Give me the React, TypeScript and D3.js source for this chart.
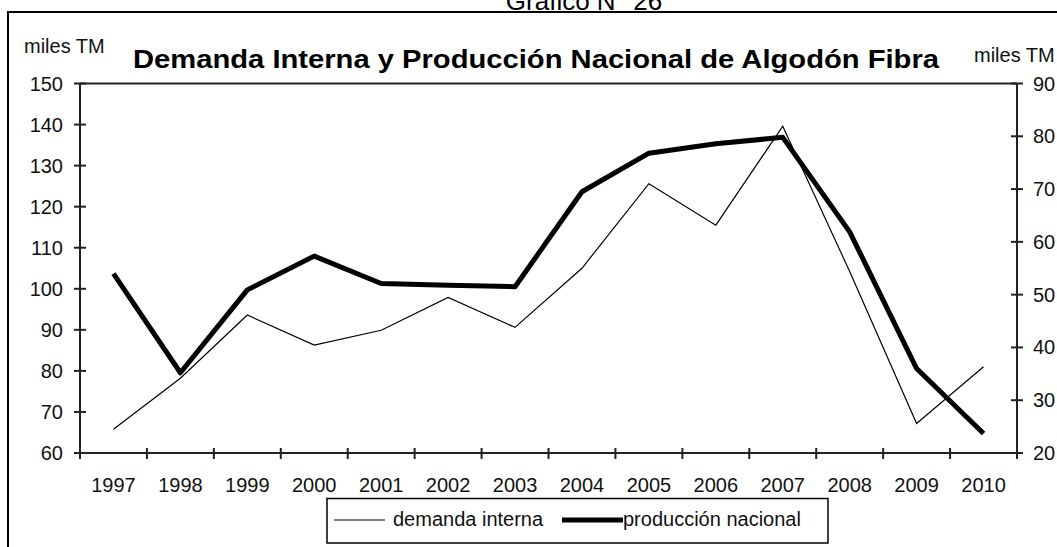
import React from "react";
import * as d3 from "d3";

const years = ["1997","1998","1999","2000","2001","2002","2003","2004","2005","2006","2007","2008","2009","2010"];
const demandaInterna = [65.8, 78.2, 93.6, 86.3, 89.9, 97.9, 90.6, 105.0, 125.6, 115.5, 139.6, 104.2, 67.2, 81.0];
const produccionNacional = [54.0, 35.2, 50.9, 57.3, 52.1, 51.8, 51.5, 69.5, 76.8, 78.6, 79.8, 61.9, 36.0, 23.7];
const leftTicks = [60, 70, 80, 90, 100, 110, 120, 130, 140, 150];
const rightTicks = [20, 30, 40, 50, 60, 70, 80, 90];

const W = 1057, H = 547;
const L = 80, R = 1017, T = 83.5, B = 453;
const FONT = "'Liberation Sans', Arial, sans-serif";

export default function App() {
  const x = d3.scaleBand<string>().domain(years).range([L, R]).padding(0);
  const yL = d3.scaleLinear().domain([60, 150]).range([B, T]);
  const yR = d3.scaleLinear().domain([20, 90]).range([B, T]);
  const cx = (y: string) => (x(y) as number) + x.bandwidth() / 2;

  const lineL = d3.line<number>().x((_, i) => cx(years[i])).y(d => yL(d));
  const lineR = d3.line<number>().x((_, i) => cx(years[i])).y(d => yR(d));

  const boundaries = years.map(y => x(y) as number).concat([R]);

  return (
    <svg width={W} height={H} style={{ position: "absolute", left: 0, top: 0, background: "#fff" }} fontFamily={FONT}>
      <rect x={0} y={0} width={W} height={H} fill="#fff" />
      {/* outer frame */}
      <rect x={8} y={12} width={W + 100} height={H + 100} fill="none" stroke="#000" strokeWidth={2} />
      <text x={584} y={10} fontSize={26} textAnchor="middle" fill="#000">Gráfico N° 26</text>

      <text x={133} y={68} fontSize={26} fontWeight="bold" textLength={806} lengthAdjust="spacingAndGlyphs" fill="#000">
        Demanda Interna y Producción Nacional de Algodón Fibra
      </text>
      <text x={24} y={53} fontSize={20} fill="#111">miles TM</text>
      <text x={974} y={62} fontSize={20} fill="#111">miles TM</text>

      {/* plot frame */}
      <line x1={L} x2={R} y1={T} y2={T} stroke="#222" strokeWidth={2} />
      <line x1={L} x2={L} y1={T} y2={B} stroke="#222" strokeWidth={2} />
      <line x1={R} x2={R} y1={T} y2={B} stroke="#222" strokeWidth={2} />
      <line x1={L} x2={R} y1={B} y2={B} stroke="#222" strokeWidth={2} />

      {leftTicks.map(t => (
        <g key={"l" + t}>
          <line x1={L - 6} x2={L + 6} y1={yL(t)} y2={yL(t)} stroke="#222" strokeWidth={2} />
          <text x={63} y={yL(t)} dy="0.35em" fontSize={20} textAnchor="end" fill="#111">{t}</text>
        </g>
      ))}
      {rightTicks.map(t => (
        <g key={"r" + t}>
          <line x1={R - 6} x2={R + 6} y1={yR(t)} y2={yR(t)} stroke="#222" strokeWidth={2} />
          <text x={1033} y={yR(t)} dy="0.35em" fontSize={20} textAnchor="start" fill="#111">{t}</text>
        </g>
      ))}
      {boundaries.map((b, i) => (
        <line key={"xt" + i} x1={b} x2={b} y1={B - 5} y2={B + 6} stroke="#222" strokeWidth={2} />
      ))}
      {years.map(y => (
        <text key={"xl" + y} x={cx(y)} y={491.5} fontSize={20} textAnchor="middle" fill="#111">{y}</text>
      ))}

      <path d={lineL(demandaInterna) || ""} fill="none" stroke="#000" strokeWidth={1.2} />
      <path d={lineR(produccionNacional) || ""} fill="none" stroke="#000" strokeWidth={5} strokeLinejoin="round" />

      {/* legend */}
      <rect x={327} y={498.5} width={501} height={44.5} fill="#fff" stroke="#000" strokeWidth={1.5} />
      <line x1={334} x2={385} y1={520} y2={520} stroke="#000" strokeWidth={1.2} />
      <text x={393} y={526} fontSize={20} fill="#111">demanda interna</text>
      <line x1={562} x2={623} y1={520} y2={520} stroke="#000" strokeWidth={5} />
      <text x={623} y={526} fontSize={20} fill="#111">producción nacional</text>
    </svg>
  );
}
